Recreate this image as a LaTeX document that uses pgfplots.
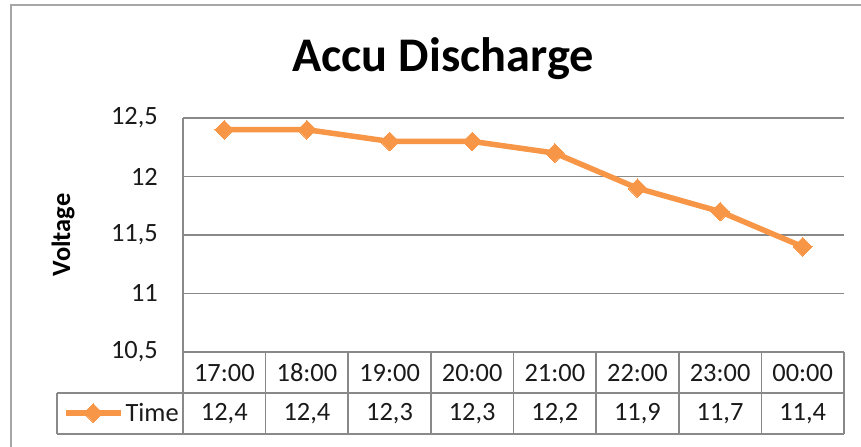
\documentclass[border=0pt]{standalone}
\usepackage{pgfplots}
\pgfplotsset{compat=1.18}
\usepackage{fontspec}
\setmainfont{Carlito}
\definecolor{orng}{HTML}{F79646}
\definecolor{gridg}{HTML}{898989}
\definecolor{frameg}{HTML}{A6A6A6}
\definecolor{txt}{HTML}{1A1A1A}
\newcommand{\tfont}{\fontsize{26.5}{30}\selectfont}
\begin{document}
\begin{tikzpicture}[x=1bp,y=1bp]
\useasboundingbox (0,0) rectangle (861,447);
% outer chart frame (left and top visible)
\draw[line width=2bp, frameg] (10.5,0) -- (10.5,441.5) -- (861,441.5);
% title
\node[anchor=base, font=\fontsize{48.5}{56}\selectfont\bfseries, text=black] at (443,375) {Accu Discharge};
% y label
\node[rotate=90, font=\tfont\bfseries, text=black] at (63,212) {Voltage};
\begin{axis}[
  at={(183bp,95bp)}, anchor=south west,
  scale only axis, width=661bp, height=234bp,
  xmin=-0.5, xmax=7.5, ymin=10.5, ymax=12.5,
  ytick={10.5,11,11.5,12,12.5},
  xtick=\empty,
  axis line style={draw=none},
  ymajorgrids, grid style={gridg, line width=1.7bp},
  major tick length=0pt,
  clip=false,
  yticklabel style={font=\tfont, text=txt, anchor=east, inner sep=0pt, xshift=-25bp},
  /pgf/number format/.cd, use comma, assume math mode=true,
  /pgfplots/.cd,
  legend style={at={(-0.1818,-0.2607)}, anchor=west, draw=none, fill=none,
    inner sep=0pt, font=\tfont, text=txt,
    /tikz/every even column/.append style={column sep=0pt}},
  legend image code/.code={\draw[#1, mark repeat=2, mark phase=2] plot coordinates {(0bp,0bp) (27.5bp,0bp) (55bp,0bp)};},
]
\addplot[orng, line width=5.5bp, mark=square*, mark size=6.6bp,
  mark options={rotate=45, solid, fill=orng, draw=orng, line width=0pt}]
  coordinates {(0,12.4) (1,12.4) (2,12.3) (3,12.3) (4,12.2) (5,11.9) (6,11.7) (7,11.4)};
\addlegendentry{Time}
\end{axis}
% y axis line
\draw[gridg, line width=1.7bp] (183,329) -- (183,13);
% data table lines
\draw[gridg, line width=1.7bp] (57,54) -- (844,54);
\draw[gridg, line width=1.7bp] (57,13) -- (844,13);
\draw[gridg, line width=1.7bp] (57,54) -- (57,13);
\foreach \k in {1,...,8} {
  \draw[gridg, line width=1.7bp] ({183+82.625*\k},95) -- ({183+82.625*\k},13);
}
% table text
\foreach \t [count=\i from 0] in {17:00,18:00,19:00,20:00,21:00,22:00,23:00,00:00} {
  \node[font=\tfont, text=txt] at ({183+82.625*(\i+0.5)},74) {\t};
}
\foreach \v [count=\i from 0] in {{12,4},{12,4},{12,3},{12,3},{12,2},{11,9},{11,7},{11,4}} {
  \node[font=\tfont, text=txt] at ({183+82.625*(\i+0.5)},33) {\v};
}
\end{tikzpicture}
\end{document}
